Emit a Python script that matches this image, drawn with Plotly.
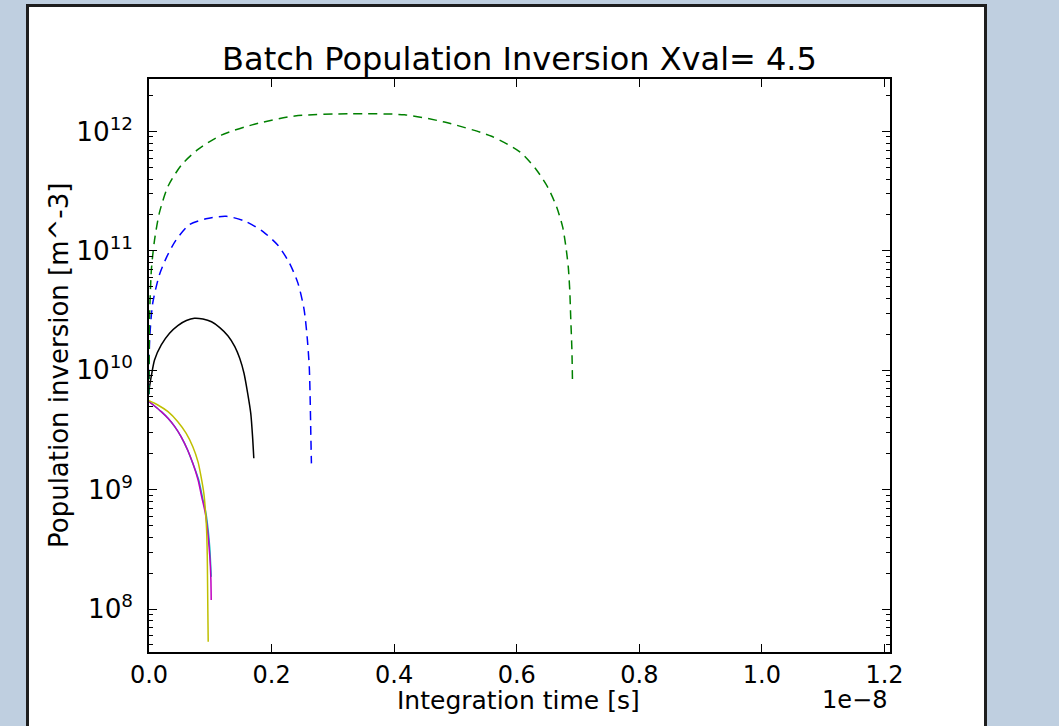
import plotly.graph_objects as go

# x values in units of 1e-8 s
green_x = [0, 0.001, 0.004, 0.009, 0.017, 0.031, 0.053, 0.080, 0.118, 0.172, 0.238, 0.330, 0.417,
           0.482, 0.559, 0.605, 0.632, 0.651, 0.665, 0.675, 0.680, 0.684, 0.6865, 0.688, 0.690, 0.691]
green_y = [6.3e9, 2.82e10, 7.08e10, 1.23e11, 2.09e11, 3.47e11, 5.25e11, 7.08e11, 9.33e11, 1.15e12,
           1.35e12, 1.41e12, 1.38e12, 1.20e12, 9.12e11, 6.76e11, 4.79e11, 3.39e11, 2.34e11, 1.58e11,
           1.10e11, 7.41e10, 4.68e10, 2.82e10, 1.48e10, 7.76e9]

blue_x = [0, 0.001, 0.006, 0.017, 0.028, 0.044, 0.066, 0.093, 0.126, 0.156, 0.186, 0.210, 0.229,
          0.243, 0.253, 0.258, 0.2615, 0.263, 0.264, 0.265]
blue_y = [6.3e9, 1.78e10, 3.63e10, 6.31e10, 8.71e10, 1.23e11, 1.66e11, 1.86e11, 1.95e11, 1.78e11,
          1.45e11, 1.12e11, 7.94e10, 5.37e10, 3.24e10, 1.91e10, 1.07e10, 5.62e9, 2.95e9, 1.66e9]

black_x = [0, 0.0036, 0.009, 0.020, 0.0335, 0.047, 0.061, 0.074, 0.088, 0.102, 0.115, 0.129,
           0.140, 0.148, 0.155, 0.161, 0.166, 0.169, 0.171]
black_y = [6.84e9, 8.83e9, 1.22e10, 1.63e10, 2.04e10, 2.37e10, 2.61e10, 2.73e10, 2.69e10, 2.55e10,
           2.29e10, 1.94e10, 1.58e10, 1.26e10, 9.44e9, 6.41e9, 4.37e9, 2.77e9, 1.83e9]

cyan_x = [0, 0.009, 0.020, 0.031, 0.042, 0.0525, 0.063, 0.0715, 0.081, 0.087, 0.093, 0.0965,
          0.099, 0.1005, 0.1015]
cyan_y = [5.46e9, 5.02e9, 4.50e9, 3.96e9, 3.37e9, 2.77e9, 2.15e9, 1.66e9, 1.21e9, 8.71e8, 6.31e8,
          4.58e8, 3.32e8, 2.41e8, 1.86e8]

magenta_x = [0, 0.009, 0.020, 0.031, 0.042, 0.0525, 0.063, 0.0715, 0.080, 0.086, 0.092, 0.0955,
             0.098, 0.0999, 0.101, 0.1015]
magenta_y = [5.46e9, 5.02e9, 4.50e9, 3.96e9, 3.37e9, 2.77e9, 2.15e9, 1.66e9, 1.21e9, 8.71e8, 6.31e8,
             4.58e8, 3.32e8, 2.41e8, 1.75e8, 1.19e8]

yellow_x = [0, 0.0144, 0.031, 0.047, 0.0607, 0.0715, 0.080, 0.085, 0.0895, 0.092, 0.094, 0.095,
            0.0955, 0.096, 0.0966]
yellow_y = [5.56e9, 5.12e9, 4.50e9, 3.71e9, 2.96e9, 2.29e9, 1.71e9, 1.28e9, 9.31e8, 6.75e8, 4.58e8,
            2.92e8, 1.75e8, 9.77e7, 5.31e7]

x_tickvals = [0.0, 0.2, 0.4, 0.6, 0.8, 1.0, 1.2]
x_ticktext = ["0.0", "0.2", "0.4", "0.6", "0.8", "1.0", "1.2"]

FONT = "DejaVu Sans"

fig = go.Figure()
series = [
    (cyan_x, cyan_y, "#00bfbf", "solid"),
    (magenta_x, magenta_y, "#bf00bf", "solid"),
    (yellow_x, yellow_y, "#bfbf00", "solid"),
    (black_x, black_y, "#000000", "solid"),
    (blue_x, blue_y, "#0000ff", "9px,6px"),
    (green_x, green_y, "#008000", "9px,6px"),
]
for xs, ys, col, dash in series:
    fig.add_trace(go.Scatter(x=xs, y=ys, mode="lines",
                             line=dict(color=col, width=1.5, dash=dash, shape="spline", smoothing=0.7),
                             showlegend=False, hoverinfo="skip"))

W, H = 1059, 726
L, R, T, B = 149, 890, 79, 652
pw, ph = R - L, B - T

def px2x(px):
    return (px - L) / pw

def py2y(py):
    return (B - py) / ph

fig.update_layout(
    width=W, height=H,
    margin=dict(l=L, r=W - R, t=T, b=H - B),
    paper_bgcolor="#bfcfe0",
    plot_bgcolor="white",
    font=dict(family=FONT, color="black", size=24),
    title=dict(text="Batch Population Inversion Xval= 4.5", x=0.5 * (L + R) / W, xanchor="center",
               y=1 - 59 / H, yanchor="middle", font=dict(size=32, family=FONT)),
    shapes=[dict(type="rect", xref="paper", yref="paper", layer="below",
                 x0=px2x(27.5), x1=px2x(985.5), y0=py2y(730), y1=py2y(5.5),
                 fillcolor="white", line=dict(color="#1e1e1e", width=3))],
    annotations=[
        dict(text="1e\u22128", xref="paper", yref="paper", x=px2x(889), y=py2y(700),
             xanchor="right", yanchor="middle", showarrow=False, font=dict(size=24, family=FONT)),
        dict(text="Integration time [s]", xref="paper", yref="paper", x=px2x(518.5), y=py2y(700),
             xanchor="center", yanchor="middle", showarrow=False, font=dict(size=25, family=FONT)),
        dict(text="Population inversion [m^-3]", xref="paper", yref="paper", x=px2x(59), y=py2y(366),
             xanchor="center", yanchor="middle", textangle=-90, showarrow=False,
             font=dict(size=26, family=FONT)),
    ],
)

fig.update_xaxes(
    range=[0, 1.209], tickvals=x_tickvals, ticktext=x_ticktext,
    ticks="inside", ticklen=8, tickwidth=1, tickcolor="black",
    showline=True, linecolor="black", linewidth=1.5, mirror="ticks",
    showgrid=False, zeroline=False,
    tickfont=dict(size=24, family=FONT),
)
fig.update_yaxes(
    type="log", range=[7.64, 12.44], dtick=1, exponentformat="power",
    ticks="inside", ticklen=8, tickwidth=1, tickcolor="black",
    minor=dict(ticks="inside", ticklen=4, tickcolor="black", dtick="D1", showgrid=False),
    showline=True, linecolor="black", linewidth=1.5, mirror="ticks",
    showgrid=False, zeroline=False, ticklabelstandoff=10,
    tickfont=dict(size=21, family=FONT),
)

fig.write_html("out.html")
